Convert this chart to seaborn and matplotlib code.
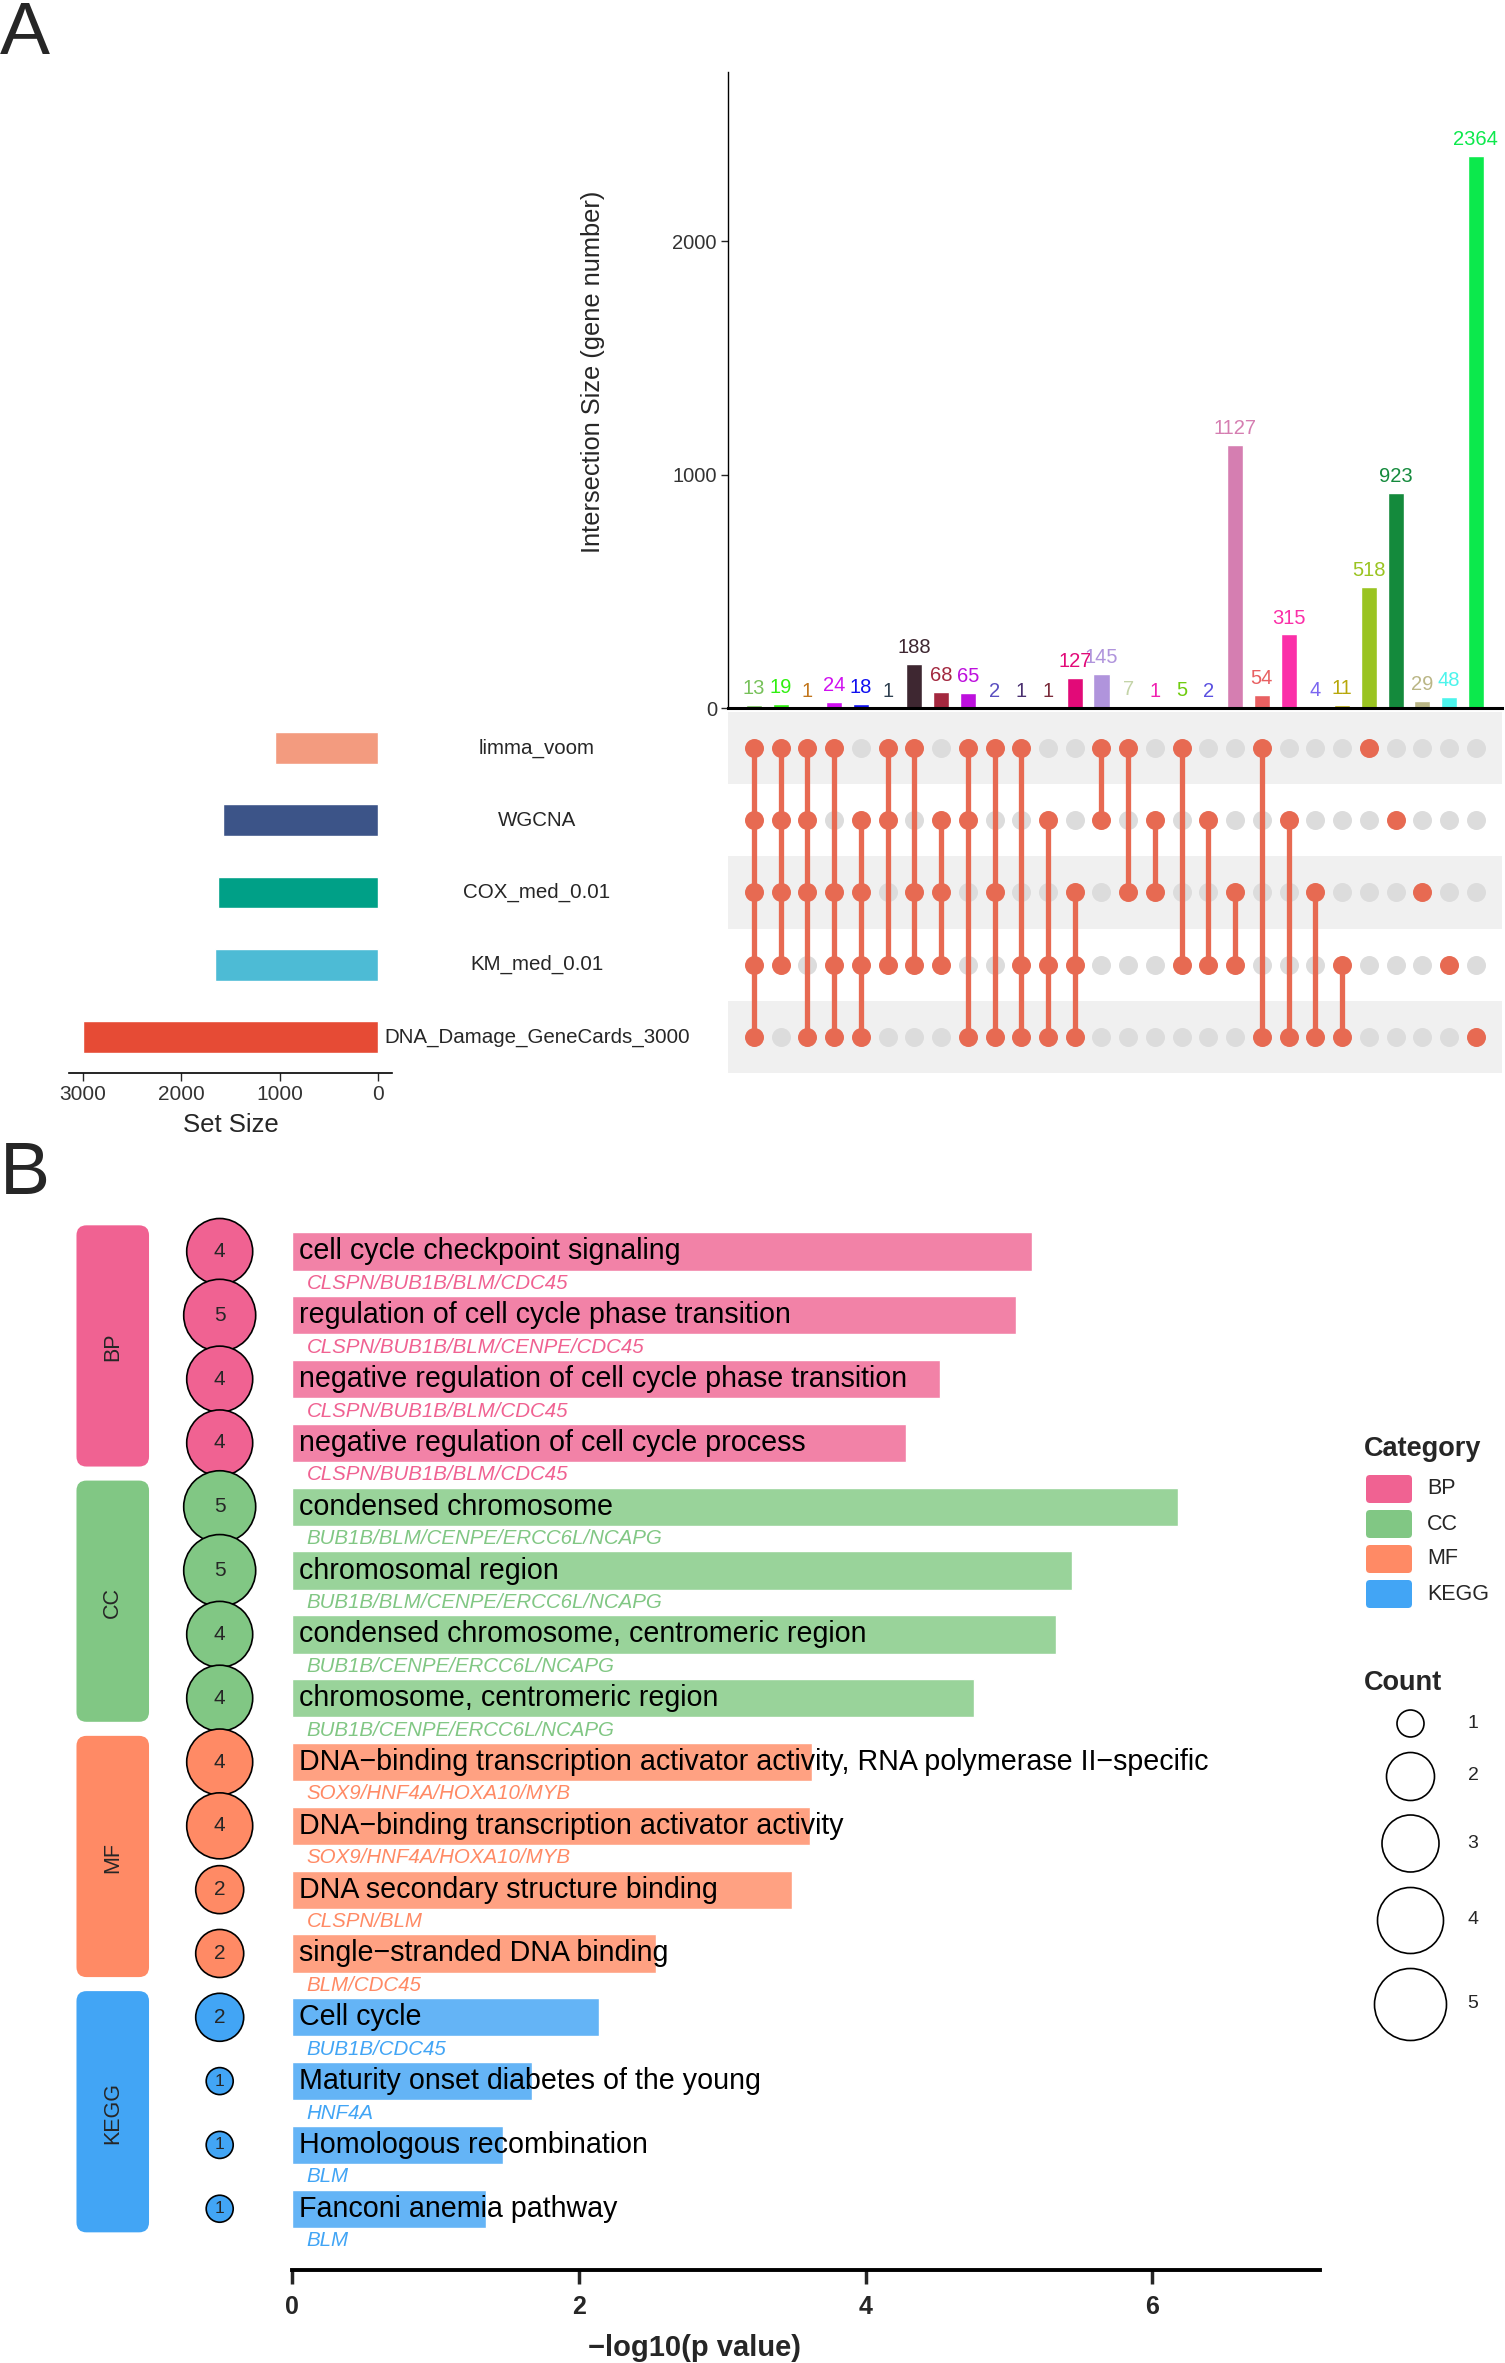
import numpy as np
import pandas as pd
import seaborn as sns
import matplotlib
matplotlib.use("Agg")
from matplotlib import pyplot as plt
from matplotlib.patches import FancyBboxPatch
from matplotlib.transforms import blended_transform_factory

# ---- panel A data (UpSet) ----
set_names = ["limma_voom", "WGCNA", "COX_med_0.01", "KM_med_0.01", "DNA_Damage_GeneCards_3000"]
set_sizes = [1043, 1572, 1627, 1653, 3000]
set_colors = ["#F39B7F", "#3C5488", "#00A087", "#4DBBD5", "#E64B35"]

# which sets (by index into set_names) each intersection column contains
combo_members = [
    (0, 1, 2, 3, 4), (0, 1, 2, 3), (0, 1, 2, 4), (0, 2, 3, 4), (1, 2, 3, 4),
    (0, 1, 3), (0, 2, 3), (1, 2, 3), (0, 1, 4), (0, 2, 4), (0, 3, 4), (1, 3, 4), (2, 3, 4),
    (0, 1), (0, 2), (1, 2), (0, 3), (1, 3), (2, 3), (0, 4), (1, 4), (2, 4), (3, 4),
    (0,), (1,), (2,), (3,), (4,),
]
inter_sizes = [13, 19, 1, 24, 18, 1, 188, 68, 65, 2, 1, 1, 127, 145, 7, 1, 5, 2,
               1127, 54, 315, 4, 11, 518, 923, 29, 48, 2364]
inter_colors = ["#77c15a", "#30f010", "#c2761c", "#d010f0", "#1010f0", "#2f4050", "#3e2731",
                "#a3283f", "#bd10dd", "#5a4fc0", "#4a3070", "#7a2a3a", "#e20a78", "#b094dc",
                "#c4d4a8", "#f020b0", "#70cc10", "#5a50e0", "#d57eb1", "#e86062", "#fb2fa8",
                "#7a66f0", "#b8a80a", "#9ac421", "#148a3c", "#bab686", "#4cf4ec", "#0ce94c"]

# ---- panel B data (enrichment) ----
terms = [
    "cell cycle checkpoint signaling",
    "regulation of cell cycle phase transition",
    "negative regulation of cell cycle phase transition",
    "negative regulation of cell cycle process",
    "condensed chromosome",
    "chromosomal region",
    "condensed chromosome, centromeric region",
    "chromosome, centromeric region",
    "DNA\u2212binding transcription activator activity, RNA polymerase II\u2212specific",
    "DNA\u2212binding transcription activator activity",
    "DNA secondary structure binding",
    "single\u2212stranded DNA binding",
    "Cell cycle",
    "Maturity onset diabetes of the young",
    "Homologous recombination",
    "Fanconi anemia pathway",
]
neg_log_p = [5.16, 5.05, 4.52, 4.28, 6.18, 5.44, 5.33, 4.76, 3.63, 3.61, 3.49, 2.54, 2.14, 1.67, 1.47, 1.35]
gene_counts = [4, 5, 4, 4, 5, 5, 4, 4, 4, 4, 2, 2, 2, 1, 1, 1]
genes = [
    "CLSPN/BUB1B/BLM/CDC45", "CLSPN/BUB1B/BLM/CENPE/CDC45", "CLSPN/BUB1B/BLM/CDC45",
    "CLSPN/BUB1B/BLM/CDC45", "BUB1B/BLM/CENPE/ERCC6L/NCAPG", "BUB1B/BLM/CENPE/ERCC6L/NCAPG",
    "BUB1B/CENPE/ERCC6L/NCAPG", "BUB1B/CENPE/ERCC6L/NCAPG", "SOX9/HNF4A/HOXA10/MYB",
    "SOX9/HNF4A/HOXA10/MYB", "CLSPN/BLM", "BLM/CDC45", "BUB1B/CDC45", "HNF4A", "BLM", "BLM",
]
go_category = ["BP"] * 4 + ["CC"] * 4 + ["MF"] * 4 + ["KEGG"] * 4
cat_order = ["BP", "CC", "MF", "KEGG"]
cat_colors = {"BP": "#f06292", "CC": "#81c784", "MF": "#ff8a65", "KEGG": "#42a5f5"}
bar_colors = {"BP": "#f282a7", "CC": "#99d39a", "MF": "#ffa182", "KEGG": "#64b4f6"}
count_levels = [1, 2, 3, 4, 5]
count_diam_px = {1: 27, 2: 48, 3: 57, 4: 66, 5: 72}

sns.set_theme(style="white")
plt.rcParams["font.family"] = ["Liberation Sans", "DejaVu Sans"]

W, H = 1505, 2363
fig = plt.figure(figsize=(W / 100, H / 100), dpi=100)
PX_PT = 100 / 72  # pixels per point


def px_axes(left, top, right, bottom):
    return fig.add_axes([left / W, 1 - bottom / H, (right - left) / W, (bottom - top) / H])


def marker_s(d_px):
    return (d_px / PX_PT) ** 2


# ================= Panel A =================
fig.text(0.0, 1.0, "A", fontsize=54, va="top", ha="left")

xlim_cols = (-0.97, len(inter_sizes) - 0.02)

# intersection size bars
ax_bar = px_axes(728, 72, 1502, 708)
df_int = pd.DataFrame({"combo": [str(i) for i in range(len(inter_sizes))], "size": inter_sizes})
sns.barplot(data=df_int, x="combo", y="size", hue="combo", palette=inter_colors,
            saturation=1, width=0.6, legend=False, ax=ax_bar)
for cont, col in zip(ax_bar.containers, inter_colors):
    ax_bar.bar_label(cont, color=col, fontsize=14.5, padding=5)
ax_bar.set_xlim(*xlim_cols)
ax_bar.set_ylim(0, 2725)
ax_bar.set_xticks([])
ax_bar.set_xlabel("")
ax_bar.set_yticks([0, 1000, 2000])
ax_bar.tick_params(axis="y", left=True, length=5, width=1, labelsize=14.5, labelcolor="#333333", pad=3)
ax_bar.set_ylabel("Intersection Size (gene number)", fontsize=18.3)
ax_bar.yaxis.set_label_coords(-0.159, 0.528)
for s in ["top", "right"]:
    ax_bar.spines[s].set_visible(False)
ax_bar.spines["left"].set_color("black")
ax_bar.spines["left"].set_linewidth(1.0)
ax_bar.spines["bottom"].set_color("black")
ax_bar.spines["bottom"].set_linewidth(2.2)

# matrix
ax_mat = px_axes(728, 712, 1502, 1073)
for r in range(0, len(set_names), 2):
    ax_mat.axhspan(r - 0.5, r + 0.5, color="#f0f0f0", zorder=0, lw=0)
grid_rows = []
for c, members in enumerate(combo_members):
    for r in range(len(set_names)):
        grid_rows.append({"col": c, "row": r, "member": r in members})
df_grid = pd.DataFrame(grid_rows)
dot_color = "#e76a52"
dot_s = marker_s(19)
sns.scatterplot(data=df_grid[~df_grid["member"]], x="col", y="row", color="#dcdcdc",
                s=dot_s, linewidth=0, ax=ax_mat, zorder=2)
for c, members in enumerate(combo_members):
    if len(members) > 1:
        ax_mat.vlines(c, min(members), max(members), color=dot_color, lw=3.8, zorder=3)
sns.scatterplot(data=df_grid[df_grid["member"]], x="col", y="row", color=dot_color,
                s=dot_s, linewidth=0, ax=ax_mat, zorder=4)
ax_mat.set_xlim(*xlim_cols)
ax_mat.set_ylim(len(set_names) - 0.5, -0.5)
ax_mat.set_axis_off()

# set names between set-size bars and matrix
trans = blended_transform_factory(fig.transFigure, ax_mat.transData)
for r, name in enumerate(set_names):
    fig.text(537 / W, r, name, transform=trans, ha="center", va="center", fontsize=14.8)

# set size bars
ax_set = px_axes(69, 712, 392, 1073)
sns.barplot(x=set_sizes, y=set_names, hue=set_names, palette=set_colors, orient="h",
            saturation=1, width=0.44, legend=False, ax=ax_set)
ax_set.set_xlim(3142, -142)
ax_set.set_ylim(len(set_names) - 0.5, -0.5)
ax_set.set_yticks([])
ax_set.set_ylabel("")
ax_set.set_xticks([3000, 2000, 1000, 0])
ax_set.tick_params(axis="x", bottom=True, length=6, width=1, labelsize=15, labelcolor="#333333", pad=3)
ax_set.set_xlabel("Set Size", fontsize=18.5, labelpad=6)
for s in ["top", "right", "left"]:
    ax_set.spines[s].set_visible(False)
ax_set.spines["bottom"].set_color("black")
ax_set.spines["bottom"].set_linewidth(1.2)

# ================= Panel B =================
fig.text(0.0, 1 - 1140 / H, "B", fontsize=54, va="top", ha="left")

df_go = pd.DataFrame({
    "term": terms, "logp": neg_log_p, "count": gene_counts,
    "genes": genes, "category": go_category, "row": np.arange(len(terms)),
})

ax_b = px_axes(60, 1213, 1330, 2270)
sns.barplot(data=df_go, x="logp", y="term", hue="category", hue_order=cat_order,
            palette=bar_colors, dodge=False, orient="h", saturation=1, width=0.6,
            legend=False, ax=ax_b)

circle_x = -0.505
sns.scatterplot(x=np.full(len(df_go), circle_x), y=df_go["row"], size=df_go["count"],
                sizes={k: marker_s(v) for k, v in count_diam_px.items()},
                hue=df_go["category"], hue_order=cat_order, palette=cat_colors,
                edgecolor="black", linewidth=1.2, legend=False, ax=ax_b, zorder=5)

for i, row in df_go.iterrows():
    ax_b.text(0.045, row["row"], row["term"], va="center", ha="left", fontsize=20.6, color="black", zorder=6)
    ax_b.text(0.10, row["row"] + 0.5, row["genes"], va="center", ha="left", fontsize=14.8,
              style="italic", color=cat_colors[row["category"]], zorder=6)
    ax_b.text(circle_x, row["row"], str(row["count"]), va="center", ha="center",
              fontsize=15 if row["count"] > 1 else 12.5, zorder=7)

# category strips
strip_x0, strip_x1 = -1.504, -0.998
for cat in cat_order:
    rows = df_go.loc[df_go["category"] == cat, "row"]
    r0, r1 = rows.min(), rows.max()
    patch = FancyBboxPatch((strip_x0, r0 - 0.41), strip_x1 - strip_x0, (r1 - r0) + 0.78,
                           boxstyle="round,pad=0,rounding_size=0.07", mutation_aspect=2.24,
                           facecolor=cat_colors[cat], edgecolor="none", zorder=2)
    ax_b.add_patch(patch)
    ax_b.text((strip_x0 + strip_x1) / 2, (r0 + r1) / 2, cat, rotation=90,
              ha="center", va="center", fontsize=15.5, zorder=3)

ax_b.set_xlim(-1.619, 7.24)
ax_b.set_ylim(15.96, -0.603)
ax_b.set_yticks([])
ax_b.set_ylabel("")
ax_b.set_xticks([0, 2, 4, 6])
ax_b.tick_params(axis="x", bottom=True, length=10, width=2.5, labelsize=18, pad=8)
for lab in ax_b.get_xticklabels():
    lab.set_fontweight("bold")
ax_b.set_xlabel("\u2212log10(p value)", fontsize=21, fontweight="bold", labelpad=11)
for s in ["top", "right", "left"]:
    ax_b.spines[s].set_visible(False)
ax_b.spines["bottom"].set_color("black")
ax_b.spines["bottom"].set_linewidth(2.8)
ax_b.spines["bottom"].set_bounds(0, 7.17)

# legends (drawn in a pixel-coordinate axes)
ax_leg = px_axes(1340, 1420, 1505, 2060)
ax_leg.set_xlim(1340, 1505)
ax_leg.set_ylim(2060, 1420)
ax_leg.set_axis_off()
ax_leg.text(1364, 1449, "Category", fontsize=19.5, fontweight="bold", va="center", ha="left")
for k, cat in enumerate(cat_order):
    yc = 1489 + k * 35
    ax_leg.add_patch(FancyBboxPatch((1366, yc - 14), 46, 28, boxstyle="round,pad=0,rounding_size=4",
                                    facecolor=cat_colors[cat], edgecolor="none"))
    ax_leg.text(1427, yc, cat, fontsize=15.5, va="center", ha="left")

ax_leg.text(1364, 1683, "Count", fontsize=19.5, fontweight="bold", va="center", ha="left")
yc = 1723
prev_d = None
for lvl in count_levels:
    d = count_diam_px[lvl]
    if prev_d is not None:
        yc += (prev_d + d) / 2 + 15
    ax_leg.scatter([1410], [yc], s=marker_s(d), facecolor="white", edgecolor="black", linewidth=1.2)
    ax_leg.text(1473, yc, str(lvl), fontsize=14, va="center", ha="center")
    prev_d = d

fig.savefig("out.png", dpi=100)
